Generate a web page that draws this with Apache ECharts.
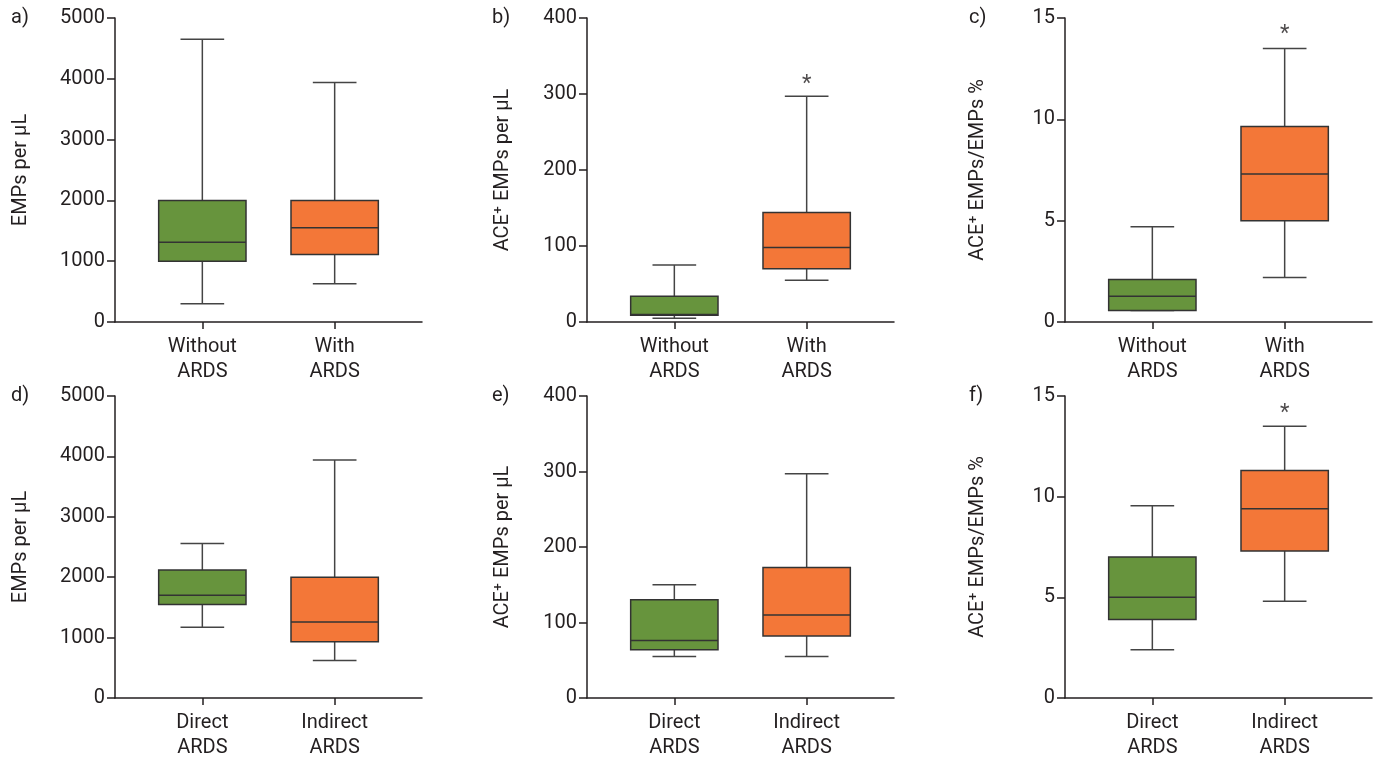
<!DOCTYPE html>
<html>
<head>
<meta charset="utf-8">
<script src="https://cdn.jsdelivr.net/npm/echarts@6/dist/echarts.min.js"></script>
<style>
  html, body { margin: 0; padding: 0; background: #fff; }
  #chart { width: 1376px; height: 760px; }
</style>
</head>
<body>
<div id="chart"></div>
<script>
// categories
var ardsCats = ['Without\nARDS', 'With\nARDS'];
var typeCats = ['Direct\nARDS', 'Indirect\nARDS'];

// box values: [min, Q1, median, Q3, max]
var empsWithout = [300, 1000, 1310, 2000, 4650];
var empsWith = [630, 1110, 1550, 2000, 3940];
var aceWithout = [5, 9, 10, 34, 75];
var aceWith = [55, 70, 98, 144, 297];
var ratioWithout = [0.57, 0.57, 1.27, 2.1, 4.7];
var ratioWith = [2.2, 5.0, 7.3, 9.65, 13.5];
var empsDirect = [1170, 1550, 1700, 2120, 2560];
var empsIndirect = [620, 930, 1260, 2000, 3940];
var aceDirect = [55, 64, 76, 130, 150];
var aceIndirect = [55, 82, 110, 173, 297];
var ratioDirect = [2.4, 3.9, 5.0, 7.0, 9.55];
var ratioIndirect = [4.8, 7.3, 9.4, 11.3, 13.5];

// significance stars: [category position, value]
var starB = [2, 312];
var starC = [2, 14.2];
var starF = [2, 14.15];

// y axis ranges
var empsTicks = { max: 5000, step: 1000 };
var aceTicks = { max: 400, step: 100 };
var ratioTicks = { max: 15, step: 5 };

var GREEN = '#67943d';
var ORANGE = '#f37738';
var INK = '#231f20';
var FONT = 'Roboto';
var FS = 20;

var panels = [
  { letter: 'a)', name: 'EMPs per μL', ticks: empsTicks, cats: ardsCats, boxes: [empsWithout, empsWith], star: null, col: 0, row: 0, gap: 84 },
  { letter: 'b)', name: 'ACE⁺ EMPs per μL', ticks: aceTicks, cats: ardsCats, boxes: [aceWithout, aceWith], star: starB, col: 1, row: 0, gap: 74 },
  { letter: 'c)', name: 'ACE⁺ EMPs/EMPs %', ticks: ratioTicks, cats: ardsCats, boxes: [ratioWithout, ratioWith], star: starC, col: 2, row: 0, gap: 77 },
  { letter: 'd)', name: 'EMPs per μL', ticks: empsTicks, cats: typeCats, boxes: [empsDirect, empsIndirect], star: null, col: 0, row: 1, gap: 84 },
  { letter: 'e)', name: 'ACE⁺ EMPs per μL', ticks: aceTicks, cats: typeCats, boxes: [aceDirect, aceIndirect], star: null, col: 1, row: 1, gap: 74 },
  { letter: 'f)', name: 'ACE⁺ EMPs/EMPs %', ticks: ratioTicks, cats: typeCats, boxes: [ratioDirect, ratioIndirect], star: starF, col: 2, row: 1, gap: 77 }
];

var colLeft = [115, 587, 1065];
var colLetter = [11, 492, 969];
var rowTop = [18, 396];
var rowHeight = [304, 305];

function renderBox(params, api) {
  var x = api.value(0);
  var lo = api.coord([x, api.value(1)]);
  var q1 = api.coord([x, api.value(2)]);
  var md = api.coord([x, api.value(3)]);
  var q3 = api.coord([x, api.value(4)]);
  var hi = api.coord([x, api.value(5)]);
  var unit = api.size([1, 0])[0];
  var half = unit * 0.33;
  var cap = half / 2;
  var cx = md[0];
  var wStyle = { stroke: '#444', lineWidth: 1.5 };
  return {
    type: 'group',
    children: [
      { type: 'line', shape: { x1: cx, y1: q3[1], x2: cx, y2: hi[1] }, style: wStyle },
      { type: 'line', shape: { x1: cx, y1: q1[1], x2: cx, y2: lo[1] }, style: wStyle },
      { type: 'line', shape: { x1: cx - cap, y1: hi[1], x2: cx + cap, y2: hi[1] }, style: wStyle },
      { type: 'line', shape: { x1: cx - cap, y1: lo[1], x2: cx + cap, y2: lo[1] }, style: wStyle },
      { type: 'rect', shape: { x: cx - half, y: q3[1], width: half * 2, height: q1[1] - q3[1] },
        style: { fill: api.visual('color'), stroke: '#333', lineWidth: 1.5 } },
      { type: 'line', shape: { x1: cx - half, y1: md[1], x2: cx + half, y2: md[1] }, style: { stroke: '#333', lineWidth: 1.5 } }
    ]
  };
}

var option = {
  animation: false,
  title: [],
  grid: [],
  xAxis: [],
  yAxis: [],
  series: []
};

panels.forEach(function (p, i) {
  option.title.push({
    text: p.letter, left: colLetter[p.col], top: rowTop[p.row] - 10, padding: 0,
    textStyle: { fontFamily: FONT, fontSize: FS, fontWeight: 'normal', color: INK }
  });
  option.grid.push({ left: colLeft[p.col], top: rowTop[p.row], width: 307, height: rowHeight[p.row] });
  option.xAxis.push({
    type: 'value', gridIndex: i, min: 0.34, max: 2.66,
    splitLine: { show: false },
    axisLine: { lineStyle: { color: INK, width: 1.5 } },
    axisTick: { show: true, length: 7, customValues: [1, 2], lineStyle: { color: INK, width: 1.5 } },
    axisLabel: {
      customValues: [1, 2], margin: 12, fontFamily: FONT, fontSize: FS, lineHeight: 25, color: INK,
      formatter: (function (cats) { return function (v) { return cats[Math.round(v) - 1]; }; })(p.cats)
    }
  });
  option.yAxis.push({
    type: 'value', gridIndex: i, min: 0, max: p.ticks.max, interval: p.ticks.step,
    name: p.name, nameLocation: 'middle', nameRotate: 90, nameGap: p.gap,
    nameTextStyle: { fontFamily: FONT, fontSize: FS, color: INK },
    splitLine: { show: false },
    axisLine: { show: true, lineStyle: { color: INK, width: 1.5 } },
    axisTick: { show: true, length: 8, lineStyle: { color: INK, width: 1.5 } },
    axisLabel: { margin: 10, fontFamily: FONT, fontSize: FS, color: INK, formatter: function (v) { return String(v); } }
  });
  option.series.push({
    type: 'custom', xAxisIndex: i, yAxisIndex: i, silent: true,
    renderItem: renderBox,
    encode: { x: 0, y: [1, 2, 3, 4, 5] },
    data: [
      { value: [1].concat(p.boxes[0]), itemStyle: { color: GREEN } },
      { value: [2].concat(p.boxes[1]), itemStyle: { color: ORANGE } }
    ]
  });
  if (p.star) {
    option.series.push({
      type: 'scatter', xAxisIndex: i, yAxisIndex: i, silent: true,
      symbol: 'circle', symbolSize: 2, itemStyle: { color: 'rgba(0,0,0,0)' },
      label: { show: true, position: 'inside', formatter: '*', fontFamily: FONT, fontSize: 22, color: INK },
      data: [p.star]
    });
  }
});

var chart = echarts.init(document.getElementById('chart'));
chart.setOption(option);
</script>
</body>
</html>
